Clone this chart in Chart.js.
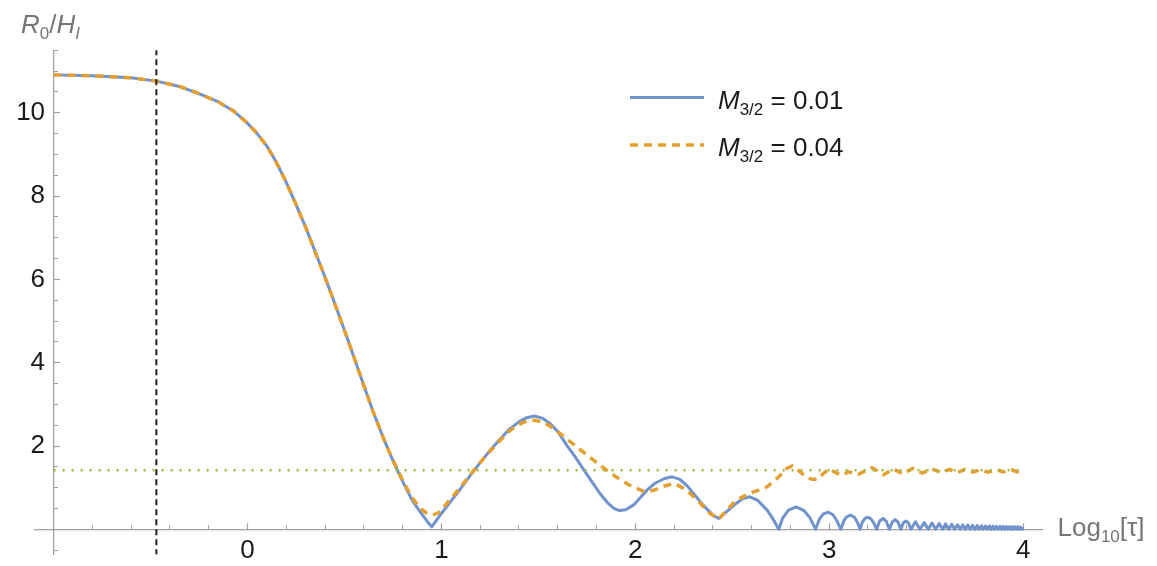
<!DOCTYPE html>
<html>
<head>
<meta charset="utf-8">
<script src="https://cdn.jsdelivr.net/npm/chart.js@4.4.1/dist/chart.umd.min.js"></script>
<style>
  html, body { margin: 0; padding: 0; background: #ffffff; }
  #wrap { width: 1157px; height: 566px; position: relative; }
</style>
</head>
<body>
<div id="wrap"><canvas id="chart" width="1157" height="566"></canvas></div>
<script>
// ---- data -------------------------------------------------------------
// R0/HI against log10(tau), for two values of M_{3/2}
const massValues = ['0.01', '0.04'];

// M_{3/2} = 0.01  : [log10 tau, R0/HI]
const curveM001 = [
  [-1.00, 10.91], [-0.80, 10.89], [-0.60, 10.84], [-0.47, 10.76], [-0.35, 10.63],
  [-0.25, 10.46], [-0.15, 10.26], [-0.074, 10.05], [0.00, 9.75], [0.05, 9.50],
  [0.10, 9.20], [0.15, 8.80], [0.20, 8.33], [0.25, 7.80], [0.30, 7.25],
  [0.35, 6.65], [0.40, 6.05], [0.45, 5.42], [0.50, 4.78], [0.55, 4.12],
  [0.60, 3.45], [0.65, 2.80], [0.70, 2.20], [0.75, 1.65], [0.80, 1.15],
  [0.825, 0.92], [0.847, 0.72], [0.875, 0.52], [0.90, 0.36], [0.925, 0.20],
  [0.95, 0.06], [0.975, 0.22], [1.00, 0.38], [1.053, 0.70], [1.10, 0.98],
  [1.15, 1.30], [1.20, 1.60], [1.25, 1.89], [1.30, 2.15], [1.35, 2.40],
  [1.40, 2.58], [1.44, 2.68], [1.48, 2.72], [1.52, 2.67], [1.56, 2.54],
  [1.60, 2.35], [1.646, 2.02], [1.69, 1.74], [1.73, 1.46], [1.775, 1.15],
  [1.818, 0.86], [1.86, 0.62], [1.89, 0.50], [1.92, 0.45], [1.95, 0.47],
  [1.99, 0.58], [2.03, 0.78], [2.06, 0.94], [2.10, 1.10], [2.15, 1.22],
  [2.19, 1.26], [2.23, 1.20], [2.27, 1.03], [2.30, 0.86], [2.35, 0.58],
  [2.40, 0.34], [2.43, 0.26], [2.47, 0.42], [2.52, 0.62], [2.555, 0.74],
  [2.59, 0.78], [2.63, 0.70], [2.68, 0.46], [2.71, 0.25], [2.74, 0.00],
  [2.76, 0.27], [2.79, 0.46], [2.83, 0.54], [2.87, 0.45], [2.90, 0.28],
  [2.93, 0.00], [2.95, 0.25], [2.97, 0.37], [2.995, 0.41], [3.02, 0.35],
  [3.04, 0.20], [3.06, 0.00], [3.075, 0.20], [3.09, 0.30], [3.11, 0.34],
  [3.13, 0.29], [3.145, 0.17], [3.16, 0.00], [3.17, 0.17], [3.185, 0.26],
  [3.20, 0.29], [3.215, 0.25], [3.23, 0.15], [3.245, 0.00], [3.26, 0.20],
  [3.278, 0.26], [3.295, 0.19], [3.31, 0.00], [3.325, 0.17], [3.34, 0.23],
  [3.355, 0.17], [3.369, 0.00], [3.383, 0.16], [3.396, 0.20], [3.409, 0.15],
  [3.422, 0.00], [3.445, 0.18], [3.468, 0.00], [3.49, 0.16], [3.511, 0.00],
  [3.53, 0.15], [3.549, 0.00], [3.567, 0.14], [3.584, 0.00], [3.60, 0.13],
  [3.617, 0.00], [3.632, 0.12], [3.647, 0.00], [3.662, 0.11], [3.676, 0.00],
  [3.689, 0.105], [3.702, 0.00], [3.715, 0.10], [3.728, 0.00], [3.74, 0.095],
  [3.751, 0.00], [3.763, 0.09], [3.774, 0.00], [3.785, 0.085], [3.795, 0.00],
  [3.806, 0.08], [3.816, 0.00], [3.826, 0.078], [3.835, 0.00], [3.845, 0.075],
  [3.854, 0.00], [3.863, 0.072], [3.872, 0.00], [3.881, 0.07], [3.889, 0.00],
  [3.897, 0.068], [3.905, 0.00], [3.913, 0.066], [3.921, 0.00], [3.929, 0.064],
  [3.937, 0.00], [3.944, 0.062], [3.951, 0.00], [3.958, 0.06], [3.966, 0.00],
  [3.973, 0.058], [3.980, 0.00], [3.987, 0.056], [3.993, 0.00], [4.00, 0.05]
];

// M_{3/2} = 0.04  : [log10 tau, R0/HI]
const curveM004 = [
  [-1.00, 10.91], [-0.80, 10.89], [-0.60, 10.84], [-0.47, 10.76], [-0.35, 10.63],
  [-0.25, 10.46], [-0.15, 10.26], [-0.074, 10.05], [0.00, 9.75], [0.05, 9.50],
  [0.10, 9.20], [0.15, 8.80], [0.20, 8.33], [0.25, 7.80], [0.30, 7.25],
  [0.35, 6.65], [0.40, 6.05], [0.45, 5.42], [0.50, 4.78], [0.55, 4.12],
  [0.60, 3.45], [0.65, 2.80], [0.70, 2.20], [0.75, 1.66], [0.80, 1.18],
  [0.825, 0.96], [0.847, 0.78], [0.875, 0.60], [0.90, 0.47], [0.925, 0.38],
  [0.955, 0.34], [0.985, 0.40], [1.01, 0.52], [1.053, 0.76], [1.10, 1.02],
  [1.15, 1.32], [1.20, 1.60], [1.25, 1.87], [1.30, 2.12], [1.35, 2.36],
  [1.40, 2.52], [1.44, 2.60], [1.48, 2.62], [1.52, 2.58], [1.56, 2.48],
  [1.59, 2.38], [1.66, 2.12], [1.73, 1.86], [1.79, 1.64], [1.84, 1.46],
  [1.90, 1.26], [1.97, 1.06], [2.04, 0.92], [2.09, 0.93], [2.15, 1.04],
  [2.20, 1.10], [2.26, 0.96], [2.32, 0.70], [2.38, 0.40], [2.43, 0.24],
  [2.47, 0.45], [2.52, 0.70], [2.59, 0.86], [2.68, 1.02], [2.74, 1.26],
  [2.78, 1.46], [2.81, 1.52], [2.84, 1.42], [2.88, 1.26], [2.91, 1.20],
  [2.94, 1.20], [2.97, 1.34], [3.00, 1.45], [3.03, 1.37], [3.06, 1.30],
  [3.10, 1.38], [3.15, 1.32], [3.22, 1.48], [3.28, 1.31], [3.33, 1.45],
  [3.38, 1.33], [3.43, 1.46], [3.48, 1.35], [3.53, 1.45], [3.58, 1.36],
  [3.62, 1.44], [3.66, 1.36], [3.70, 1.44], [3.74, 1.37], [3.78, 1.43],
  [3.82, 1.37], [3.86, 1.43], [3.90, 1.38], [3.94, 1.43], [3.97, 1.38],
  [4.00, 1.42]
];

// reference levels
const horizontalLevel = [[-1.0, 1.42], [4.0, 1.42]];
const verticalMarker = [[-0.47, -0.62], [-0.47, 11.55]];

// axes
const xRange = [-1.1, 4.1];
const yRange = [-0.6, 11.5];
const yLabelColumn = -1.044;   // right edge of the y tick labels, in x units
const xMajorTicks = [0, 1, 2, 3, 4];
const xTickLabels = ['0', '1', '2', '3', '4'];
const xMinorTicks = [-1.0, -0.8, -0.6, -0.4, -0.2, 0.2, 0.4, 0.6, 0.8, 1.2, 1.4, 1.6, 1.8,
                     2.2, 2.4, 2.6, 2.8, 3.2, 3.4, 3.6, 3.8];
const yMajorTicks = [2, 4, 6, 8, 10];
const yTickLabels = ['2', '4', '6', '8', '10'];
const yMinorTicks = [-0.5, 0.5, 1, 1.5, 2.5, 3, 3.5, 4.5, 5, 5.5, 6.5, 7, 7.5, 8.5, 9, 9.5,
                     10.5, 11, 11.5];

// ---- styling ----------------------------------------------------------
const FAMILY = '"Liberation Sans", Arial, Helvetica, sans-serif';
const AXIS_GREY = '#a0a0a0';
const LABEL_GREY = '#767676';
const BLUE = '#7093cc';
const ORANGE = '#e3a030';
const GREEN = '#9cb83c';

const toPoints = arr => arr.map(([x, y]) => ({ x, y }));

function drawRich(ctx, x, y, parts, color, base, sub, drop) {
  ctx.save();
  ctx.fillStyle = color;
  ctx.textAlign = 'left';
  ctx.textBaseline = 'alphabetic';
  for (const p of parts) {
    const size = p.sub ? sub : base;
    ctx.font = (p.italic ? 'italic ' : '') + size + 'px ' + FAMILY;
    ctx.fillText(p.t, x, y + (p.sub ? drop : 0));
    x += ctx.measureText(p.t).width;
  }
  ctx.restore();
  return x;
}

const annotations = {
  id: 'annotations',
  afterDraw(chart) {
    const ctx = chart.ctx;
    const area = chart.chartArea;
    const axisY = chart.scales.y.getPixelForValue(0);

    // y-axis title
    drawRich(ctx, 21, 33, [
      { t: 'R', italic: true }, { t: '0', sub: true }, { t: '/' },
      { t: 'H', italic: true }, { t: 'I', italic: true, sub: true }
    ], LABEL_GREY, 26, 17, 6);

    // x-axis title
    drawRich(ctx, area.right + 15, axisY + 7, [
      { t: 'Log' }, { t: '10', sub: true }, { t: '[\u03C4]' }
    ], LABEL_GREY, 26, 17, 6);

    // legend
    const rows = [
      { color: BLUE, dash: [], width: 3, y: 97.5 },
      { color: ORANGE, dash: [8, 6], width: 3.5, y: 145 }
    ];
    rows.forEach((r, i) => {
      ctx.save();
      ctx.strokeStyle = r.color;
      ctx.lineWidth = r.width;
      ctx.setLineDash(r.dash);
      ctx.beginPath();
      ctx.moveTo(630, r.y);
      ctx.lineTo(704, r.y);
      ctx.stroke();
      ctx.restore();
      drawRich(ctx, 718, r.y + 11, [
        { t: 'M', italic: true }, { t: '3/2', sub: true }, { t: ' = ' + massValues[i] }
      ], '#1a1a1a', 26, 17, 6);
    });
  }
};

const zeroSize = s => {
  if (s.isHorizontal()) { s.height = 0; } else { s.width = 0; }
  s.paddingLeft = 0; s.paddingRight = 0; s.paddingTop = 0; s.paddingBottom = 0;
};
const setTicks = values => s => { s.ticks = values.map(v => ({ value: v })); };
const tickFont = { family: FAMILY, size: 26 };

new Chart(document.getElementById('chart'), {
  type: 'scatter',
  data: {
    datasets: [
      {
        label: 'marker',
        data: toPoints(verticalMarker),
        showLine: true, borderColor: '#1e1e1e', borderWidth: 2, borderDash: [6, 4],
        pointRadius: 0
      },
      {
        label: 'level',
        data: toPoints(horizontalLevel),
        showLine: true, borderColor: GREEN, borderWidth: 2.5, borderDash: [2, 7],
        pointRadius: 0
      },
      {
        label: 'M3/2 = ' + massValues[1],
        data: toPoints(curveM004),
        showLine: true, borderColor: ORANGE, borderWidth: 3.5, borderDash: [8, 6],
        pointRadius: 0, tension: 0
      },
      {
        label: 'M3/2 = ' + massValues[0],
        data: toPoints(curveM001),
        showLine: true, borderColor: BLUE, borderWidth: 3,
        pointRadius: 0, tension: 0, borderJoinStyle: 'round'
      }
    ]
  },
  options: {
    responsive: false,
    devicePixelRatio: 1,
    animation: false,
    events: [],
    layout: { padding: { left: 34.2, right: 114.5, top: 50.3, bottom: 11.7 } },
    plugins: { legend: { display: false }, tooltip: { enabled: false } },
    scales: {
      x: {
        type: 'linear', min: xRange[0], max: xRange[1], position: { y: 0 },
        afterBuildTicks: setTicks(xMajorTicks), afterFit: zeroSize,
        grid: { drawOnChartArea: false, drawTicks: true, tickLength: -7, tickColor: AXIS_GREY, tickWidth: 1.2 },
        border: { display: true, color: AXIS_GREY, width: 1.3 },
        ticks: {
          autoSkip: false, maxRotation: 0, padding: 13, color: '#1a1a1a',
          font: tickFont,
          callback: (v, i) => xTickLabels[i]
        }
      },
      xMinor: {
        type: 'linear', axis: 'x', min: xRange[0], max: xRange[1], position: { y: 0 },
        afterBuildTicks: setTicks(xMinorTicks), afterFit: zeroSize,
        grid: { drawOnChartArea: false, drawTicks: true, tickLength: -4, tickColor: AXIS_GREY, tickWidth: 1 },
        border: { display: false },
        ticks: { display: false }
      },
      y: {
        type: 'linear', min: yRange[0], max: yRange[1], position: { x: -1 },
        afterBuildTicks: setTicks(yMajorTicks), afterFit: zeroSize,
        grid: { drawOnChartArea: false, drawTicks: true, tickLength: -7, tickColor: AXIS_GREY, tickWidth: 1.2 },
        border: { display: true, color: AXIS_GREY, width: 1.3 },
        ticks: { display: false }
      },
      yMinor: {
        type: 'linear', axis: 'y', min: yRange[0], max: yRange[1], position: { x: -1 },
        afterBuildTicks: setTicks(yMinorTicks), afterFit: zeroSize,
        grid: { drawOnChartArea: false, drawTicks: true, tickLength: -4, tickColor: AXIS_GREY, tickWidth: 1 },
        border: { display: false },
        ticks: { display: false }
      },
      yLabels: {
        type: 'linear', axis: 'y', min: yRange[0], max: yRange[1], position: { x: yLabelColumn },
        afterBuildTicks: setTicks(yMajorTicks), afterFit: zeroSize,
        grid: { display: false, drawTicks: false },
        border: { display: false },
        ticks: {
          autoSkip: false, padding: 0, color: '#1a1a1a',
          font: tickFont,
          callback: (v, i) => yTickLabels[i]
        }
      }
    }
  },
  plugins: [annotations]
});
</script>
</body>
</html>
